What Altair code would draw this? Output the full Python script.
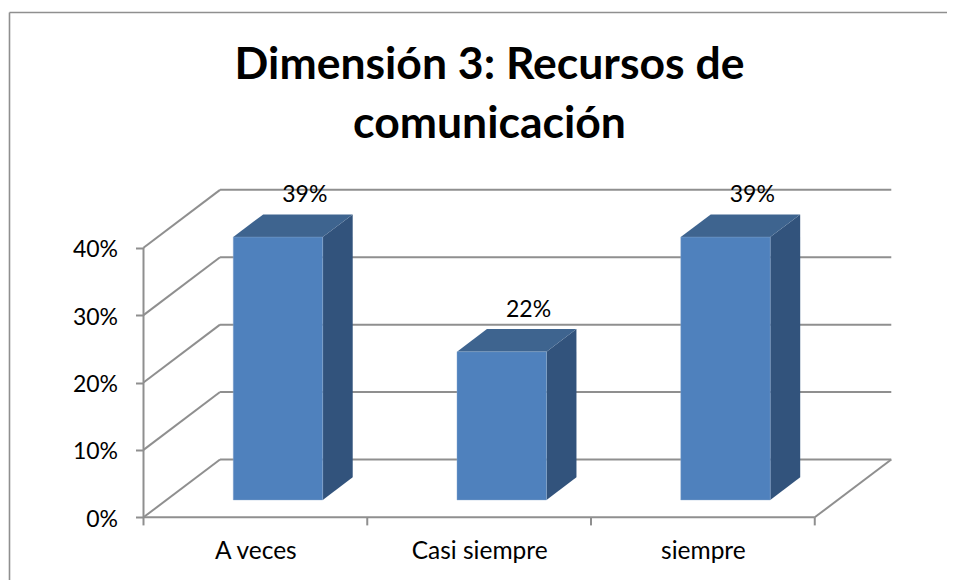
import json
import altair as alt
import pandas as pd

# --- chart values -----------------------------------------------------------
title_lines = ["Dimensión 3: Recursos de", "comunicación"]
categories = ["A veces", "Casi siempre", "siempre"]
values = [39, 22, 39]
y_ticks = [0, 10, 20, 30, 40]

# --- oblique 3D projection, in data units (x: categories, y: percent) ------
DEPTH_X, DEPTH_Y = 0.342, 8.58       # depth of the floor / walls
BAR_LEFT, BAR_W = 0.401, 0.400       # bar front inside its category
GAP_Y = 2.57                         # bar base lift above the front floor line
BAR_DX, BAR_DY = 0.134, 3.37         # depth of the bar itself
LABEL_DX, LABEL_DY = 0.12, 1.8
X_MIN, X_MAX = -0.6056, 3.591
Y_MIN, Y_MAX = -9.30, 75.56
N = len(categories)
WALL_TOP = max(y_ticks)

GRID = "#8f8f8f"
FRONT, TOP, SIDE = "#4f81bd", "#3e648f", "#32537c"
FONT = "Lato"
LABEL_SIZE = 23

xs = alt.Scale(domain=[X_MIN, X_MAX], nice=False, zero=False)
ys = alt.Scale(domain=[Y_MIN, Y_MAX], nice=False, zero=False)

cat_expr = json.dumps(categories) + "[round(datum.value - 0.5)]"
x_axis = alt.Axis(
    values=[i + 0.5 for i in range(N)], labelExpr=cat_expr, title=None,
    orient="bottom", offset=-62.7, domain=False, ticks=False, grid=False,
    labelFontSize=24.5, labelFont=FONT, labelColor="#000000", labelPadding=41,
    labelBaseline="alphabetic", labelOverlap=False, labelFlush=False,
)
y_axis = alt.Axis(
    values=y_ticks, labelExpr="datum.value + '%'", title=None,
    orient="left", offset=-135.5, domain=False, grid=False,
    tickSize=8, tickColor=GRID, tickWidth=2,
    labelFontSize=LABEL_SIZE, labelFont=FONT, labelColor="#000000", labelPadding=18,
    labelOffset=2, labelOverlap=False, labelFlush=False,
)
X = alt.X("x:Q", scale=xs, axis=x_axis)
Y = alt.Y("y:Q", scale=ys, axis=y_axis, stack=None)


def seg(mark_df, color=GRID, width=2):
    return alt.Chart(mark_df).mark_rule(color=color, strokeWidth=width).encode(
        x=X, x2="x2:Q", y=Y, y2="y2:Q",
    )


# frame (top and left edges; the rest is cropped in the reference)
frame = pd.DataFrame([
    dict(x=X_MIN + 0.0067, x2=X_MAX, y=Y_MAX - 0.67, y2=Y_MAX - 0.67),
    dict(x=X_MIN + 0.0067, x2=X_MIN + 0.0067, y=Y_MAX - 0.67, y2=Y_MIN),
])

# walls and floor
lines = []
for t in y_ticks:
    lines.append(dict(x=0, x2=DEPTH_X, y=t, y2=t + DEPTH_Y))
    lines.append(dict(x=DEPTH_X, x2=N + DEPTH_X, y=t + DEPTH_Y, y2=t + DEPTH_Y))
lines.append(dict(x=0, x2=0, y=0, y2=WALL_TOP))
lines.append(dict(x=0, x2=N, y=0, y2=0))
lines.append(dict(x=N, x2=N + DEPTH_X, y=0, y2=DEPTH_Y))
lines = pd.DataFrame(lines)

# small ticks under the category axis
ticks = pd.DataFrame([dict(x=i, x2=i, y=0, y2=-1.2) for i in range(N + 1)])

# bars
front, side, top, labels = [], [], [], []
for i, (c, v) in enumerate(zip(categories, values)):
    l, r = i + BAR_LEFT, i + BAR_LEFT + BAR_W
    b, t = GAP_Y, GAP_Y + v
    front.append(dict(x=l, x2=r, y=b, y2=t))
    side += [
        dict(c=c, x=r, y=t, y2=b),
        dict(c=c, x=r + BAR_DX, y=t + BAR_DY, y2=b + BAR_DY),
    ]
    top += [
        dict(c=c, x=l, y=t, y2=t),
        dict(c=c, x=l + BAR_DX, y=t + BAR_DY, y2=t),
        dict(c=c, x=r, y=t + BAR_DY, y2=t),
        dict(c=c, x=r + BAR_DX, y=t + BAR_DY, y2=t + BAR_DY),
    ]
    labels.append(dict(x=(l + r) / 2 + LABEL_DX, y=t + BAR_DY + LABEL_DY, t=f"{v}%"))

front_l = alt.Chart(pd.DataFrame(front)).mark_bar(
    color=FRONT, stroke="#8fadd2", strokeWidth=0.4
).encode(x=X, x2="x2:Q", y=Y, y2="y2:Q")


def face(rows, color):
    return alt.Chart(pd.DataFrame(rows)).mark_area(color=color, interpolate="linear").encode(
        x=X, y=Y, y2="y2:Q", detail="c:N",
    )


label_l = alt.Chart(pd.DataFrame(labels)).mark_text(
    font=FONT, fontSize=LABEL_SIZE, color="#000000", baseline="alphabetic", align="center"
).encode(x=X, y=Y, text="t:N")

chart = alt.layer(
    seg(frame, width=1.6),
    seg(lines),
    seg(ticks),
    face(side, SIDE),
    face(top, TOP),
    front_l,
    label_l,
).properties(
    width=939,
    height=572,
    autosize=alt.AutoSizeParams(type="none"),
    padding=0,
    title=alt.TitleParams(
        text=title_lines,
        font=FONT, fontSize=44.5, fontWeight="bold", color="#000000",
        anchor="middle", offset=0, dx=12, dy=174, baseline="alphabetic", lineHeight=59,
    ),
).configure_view(stroke=None)

chart.save("out.html", embed_options={"renderer": "svg", "actions": False})
